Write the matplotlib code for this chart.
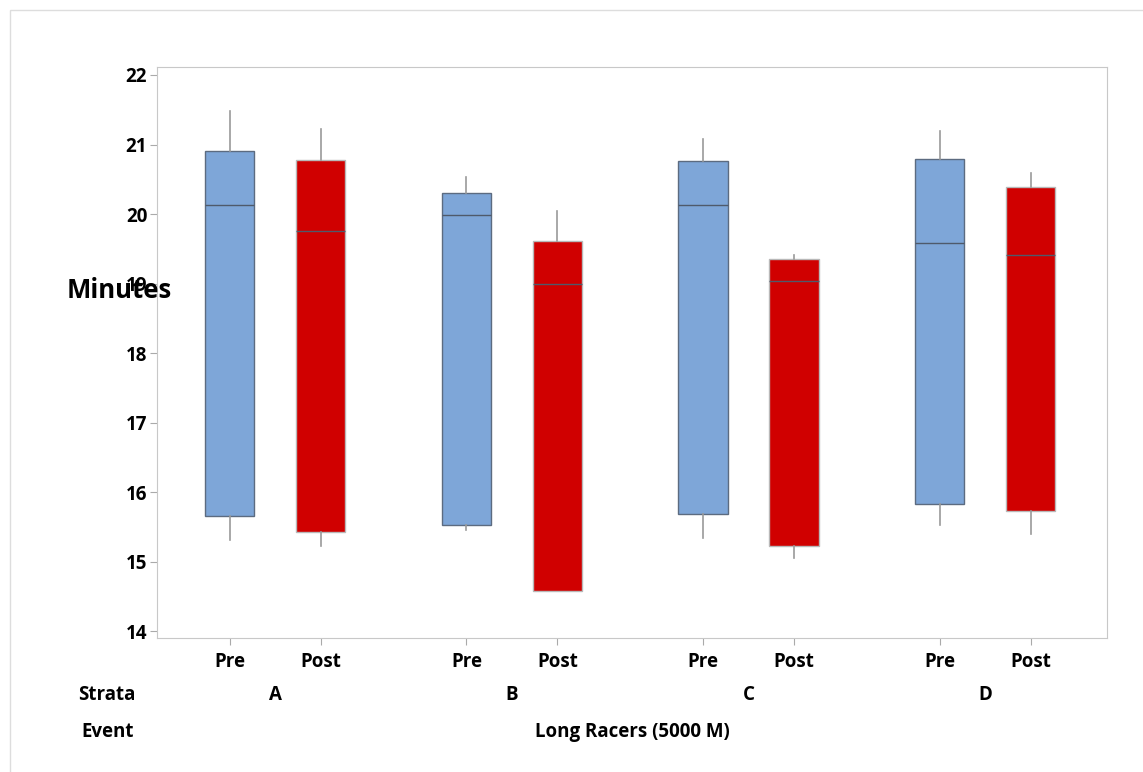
import matplotlib.pyplot as plt
from matplotlib.patches import Rectangle

plt.rcParams['font.family'] = ['Open Sans', 'DejaVu Sans']

# values (minutes)
strata = ['A', 'B', 'C', 'D']
events = ['Pre', 'Post']
whisker_low = [15.31, 15.23, 15.46, 14.57, 15.34, 15.05, 15.52, 15.40]
q1 = [15.66, 15.43, 15.52, 14.57, 15.69, 15.23, 15.83, 15.72]
median = [20.13, 19.75, 19.99, 19.00, 20.13, 19.03, 19.58, 19.41]
q3 = [20.91, 20.77, 20.30, 19.61, 20.76, 19.35, 20.79, 20.39]
whisker_high = [21.48, 21.22, 20.53, 20.04, 21.08, 19.41, 21.19, 20.59]
yticks = [14, 15, 16, 17, 18, 19, 20, 21, 22]

blue = '#7EA6D8'
red = '#D00000'
group_step = 2.6
fs = 13.5

fig = plt.figure(figsize=(11.43, 7.72), dpi=100)
fig.patches.append(Rectangle((10 / 1143, -0.1), 1.2, 1 - 10 / 772 + 0.1,
                             transform=fig.transFigure, fill=False,
                             edgecolor='#DDDDDD', linewidth=1))
ax = fig.add_axes([157 / 1143, 1 - 638 / 772, 950 / 1143, 571 / 772])

positions = []
stats = []
labels = []
for i, s in enumerate(strata):
    for j, e in enumerate(events):
        k = i * 2 + j
        positions.append(i * group_step + j)
        labels.append(e)
        stats.append(dict(whislo=whisker_low[k], q1=q1[k], med=median[k],
                          q3=q3[k], whishi=whisker_high[k], fliers=[]))

bp = ax.bxp(stats, positions=positions, widths=0.54, patch_artist=True,
            showcaps=False,
            boxprops=dict(edgecolor='#5C6B80', linewidth=1),
            medianprops=dict(color='#4F5A6B', linewidth=1),
            whiskerprops=dict(color='#9A9A9A', linewidth=1.2))
for k, box in enumerate(bp['boxes']):
    box.set_facecolor(blue if k % 2 == 0 else red)
    if k % 2 == 1:
        box.set_edgecolor('#B8B8B8')

ax.set_xlim(-0.80, 9.64)
ax.set_ylim(13.9, 22.115)
ax.set_yticks(yticks)
ax.set_xticks(positions)
ax.set_xticklabels(labels)
for sp in ax.spines.values():
    sp.set_color('#C8C8C8')
ax.tick_params(axis='both', colors='#AAAAAA', length=5, labelcolor='black',
               labelsize=fs)
ax.tick_params(axis='x', pad=5)
ax.tick_params(axis='y', pad=2)
for t in ax.get_xticklabels() + ax.get_yticklabels():
    t.set_fontweight('bold')

fig.text(119 / 1143, 1 - 290 / 772, 'Minutes', ha='center', va='center',
         fontsize=18.5, fontweight='bold')

trans = ax.get_xaxis_transform()
for i, s in enumerate(strata):
    ax.text(i * group_step + 0.5, -0.0998, s, transform=trans, ha='center',
            va='center', fontsize=fs, fontweight='bold')
ax.text(sum(ax.get_xlim()) / 2, -0.1646, 'Long Racers (5000 M)', transform=trans,
        ha='center', va='center', fontsize=fs, fontweight='bold')
fig.text(107 / 1143, 1 - 695 / 772, 'Strata', ha='center', va='center',
         fontsize=fs, fontweight='bold')
fig.text(108 / 1143, 1 - 732 / 772, 'Event', ha='center', va='center',
         fontsize=fs, fontweight='bold')

fig.savefig('out.png', dpi=100)
